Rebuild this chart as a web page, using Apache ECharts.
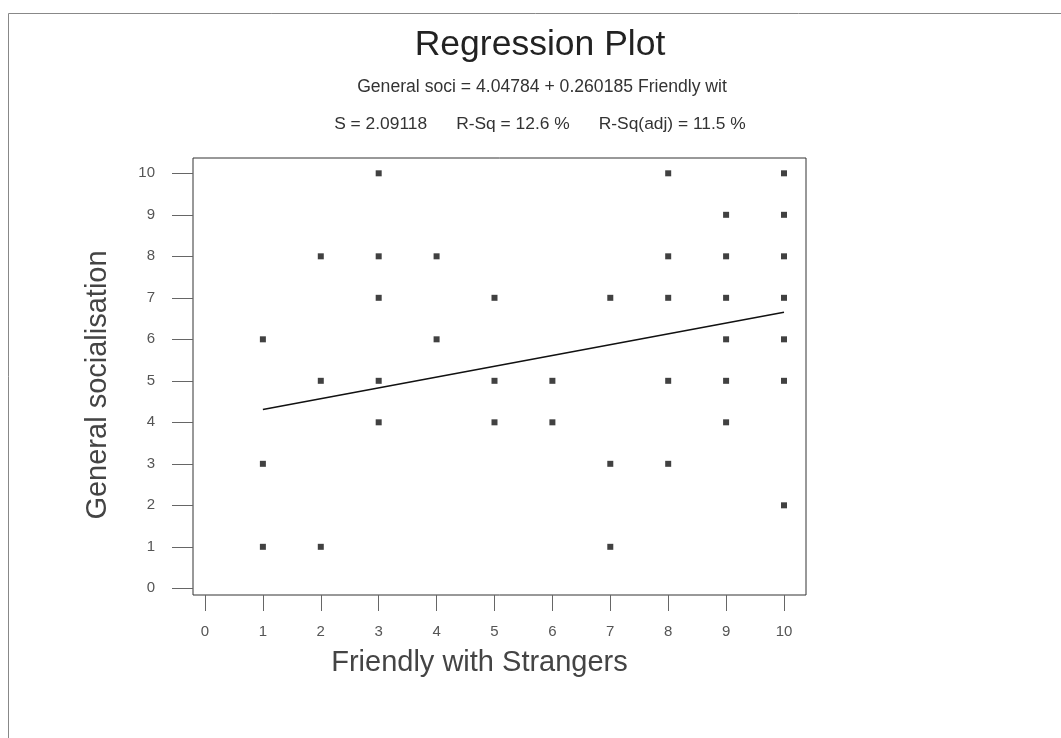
<!DOCTYPE html>
<html>
<head>
<meta charset="utf-8">
<script src="https://cdn.jsdelivr.net/npm/echarts@6/dist/echarts.min.js"></script>
<style>
  html, body { margin: 0; padding: 0; background: #ffffff; }
  #chart { width: 1061px; height: 738px; }
</style>
</head>
<body>
<div id="chart"></div>
<script>
// ---- Data ----
const titleText = 'Regression Plot';
const equationText = 'General soci = 4.04784 + 0.260185 Friendly wit';
const statsText = 'S = 2.09118      R-Sq = 12.6 %      R-Sq(adj) = 11.5 %';
const xAxisName = 'Friendly with Strangers';
const yAxisName = 'General socialisation';

const pointX = [1, 1, 1,
                2, 2, 2,
                3, 3, 3, 3, 3,
                4, 4,
                5, 5, 5,
                6, 6,
                7, 7, 7,
                8, 8, 8, 8, 8,
                9, 9, 9, 9, 9, 9,
                10, 10, 10, 10, 10, 10, 10];
const pointY = [6, 3, 1,
                8, 5, 1,
                10, 8, 7, 5, 4,
                8, 6,
                7, 5, 4,
                5, 4,
                7, 3, 1,
                10, 8, 7, 5, 3,
                9, 8, 7, 6, 5, 4,
                10, 9, 8, 7, 6, 5, 2];

const fitX = [1, 10];
const fitY = [4.308, 6.650];

const xTicks = [0, 1, 2, 3, 4, 5, 6, 7, 8, 9, 10];
const yTicks = [0, 1, 2, 3, 4, 5, 6, 7, 8, 9, 10];

// axis extents (frame slightly wider than the tick range)
const xRange = [-0.207, 10.38];
const yRange = [-0.161, 10.369];

// ---- Build chart ----
const points = pointX.map((x, i) => [x, pointY[i]]);
const fitLine = fitX.map((x, i) => [x, fitY[i]]);

const FONT = '"Liberation Sans", Arial, Helvetica, sans-serif';

const chart = echarts.init(document.getElementById('chart'), null, { renderer: 'canvas' });

chart.setOption({
  backgroundColor: '#ffffff',
  animation: false,
  title: [
    {
      text: titleText,
      left: 535, top: 22, textAlign: 'center',
      textStyle: { fontFamily: FONT, fontSize: 35.5, fontWeight: 'normal', color: '#222' }
    },
    {
      text: equationText,
      left: 537, top: 73, textAlign: 'center',
      textStyle: { fontFamily: FONT, fontSize: 17.6, fontWeight: 'normal', color: '#333' }
    },
    {
      text: statsText,
      left: 535, top: 111, textAlign: 'center',
      textStyle: { fontFamily: FONT, fontSize: 17.4, fontWeight: 'normal', color: '#333' }
    }
  ],
  graphic: [
    {
      type: 'rect', silent: true, z: -10,
      shape: { x: 8.5, y: 13.5, width: 1100, height: 800 },
      style: { fill: 'none', stroke: '#888', lineWidth: 1 }
    }
  ],
  grid: {
    left: 193, right: 255, top: 158, bottom: 143,
    show: true, borderColor: '#333', borderWidth: 1, backgroundColor: 'transparent',
    containLabel: false
  },
  xAxis: {
    type: 'value', min: xRange[0], max: xRange[1],
    axisLine: { show: false, onZero: false },
    axisTick: { show: true, length: 16, customValues: xTicks, lineStyle: { color: '#666', width: 1 } },
    axisLabel: {
      margin: 29, fontFamily: FONT, fontSize: 15, color: '#555',
      customValues: xTicks,
      formatter: v => String(Math.round(v))
    },
    splitLine: { show: false },
    name: xAxisName, nameLocation: 'middle', nameGap: 53,
    nameTextStyle: { fontFamily: FONT, fontSize: 29, color: '#444', padding: [0, 40, 0, 0] }
  },
  yAxis: {
    type: 'value', min: yRange[0], max: yRange[1],
    axisLine: { show: false, onZero: false },
    axisTick: { show: true, length: 21, customValues: yTicks, lineStyle: { color: '#666', width: 1 } },
    axisLabel: {
      margin: 38, fontFamily: FONT, fontSize: 15, color: '#555',
      customValues: yTicks,
      formatter: v => String(Math.round(v))
    },
    splitLine: { show: false },
    name: yAxisName, nameLocation: 'middle', nameGap: 81, nameRotate: 90,
    nameTextStyle: { fontFamily: FONT, fontSize: 29, color: '#444', padding: [0, 17, 0, 0] }
  },
  series: [
    {
      type: 'scatter',
      data: points,
      symbol: 'rect', symbolSize: 6,
      itemStyle: { color: '#111' },
      silent: true
    },
    {
      type: 'line',
      data: fitLine,
      showSymbol: false, symbol: 'none',
      lineStyle: { color: '#111', width: 1.5 },
      silent: true
    }
  ]
});
</script>
</body>
</html>
